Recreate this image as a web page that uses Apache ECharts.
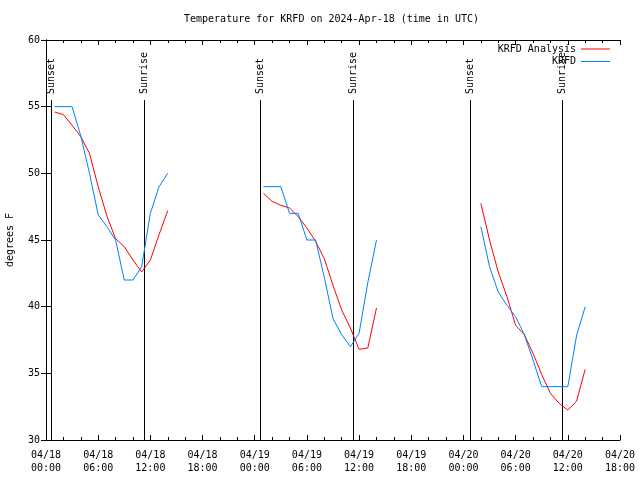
<!DOCTYPE html>
<html><head><meta charset="utf-8">
<script src="https://cdn.jsdelivr.net/npm/echarts@6/dist/echarts.min.js"></script>
<style>html,body{margin:0;padding:0;background:#fff}#c{width:640px;height:480px}</style>
</head><body><div id="c"></div><script>
// hours since 2024-04-18 00:00 UTC
const hoursA = [1,2,3,4,5,6,7,8,9,10,11,12,13,14];
const hoursB = [25,26,27,28,29,30,31,32,33,34,35,36,37,38];
const hoursC = [50,51,52,53,54,55,56,57,58,59,60,61,62];

const analysisA = [54.6,54.4,53.6,52.75,51.5,49.0,46.8,45.1,44.5,43.5,42.6,43.5,45.4,47.2];
const analysisB = [48.5,47.9,47.6,47.4,46.75,45.9,44.9,43.6,41.6,39.75,38.4,36.8,36.9,39.9];
const analysisC = [47.75,45.0,42.6,40.75,38.6,37.9,36.5,34.9,33.5,32.75,32.25,32.9,35.3];

const observedA = [55,55,55,52.8,50,46.9,46,45,42,42,43,47,49,50];
const observedB = [49,49,49,47,47,45,45,42.2,39.1,37.9,37,38,41.8,45];
const observedC = [46,43,41.1,40.1,39.25,37.9,36,34,34,34,34,37.8,40];

const sunHours = [0.63,11.32,24.66,35.33,48.75,59.36];
const sunLabels = ['Sunset','Sunrise','Sunset','Sunrise','Sunset','Sunrise'];

const xTickLabels = ['04/18\n00:00','04/18\n06:00','04/18\n12:00','04/18\n18:00',
  '04/19\n00:00','04/19\n06:00','04/19\n12:00','04/19\n18:00',
  '04/20\n00:00','04/20\n06:00','04/20\n12:00','04/20\n18:00'];
const yTicks = [30,35,40,45,50,55,60];

function joinSegments(hs, vs) {
  const out = [];
  for (let s = 0; s < hs.length; s++) {
    if (s > 0) out.push([(hs[s-1][hs[s-1].length-1] + hs[s][0]) / 2, null]);
    for (let i = 0; i < hs[s].length; i++) out.push([hs[s][i], vs[s][i]]);
  }
  return out;
}
const H = [hoursA, hoursB, hoursC];
const analysisData = joinSegments(H, [analysisA, analysisB, analysisC]);
const observedData = joinSegments(H, [observedA, observedB, observedC]);

const FONT = 'DejaVu Sans Mono';
const RED = '#ff0000', BLUE = '#0080ff';
const axisBase = {
  axisLine: {show: true, lineStyle: {color: '#000', width: 1}},
  splitLine: {show: false}
};

const chart = echarts.init(document.getElementById('c'), null, {renderer: 'canvas'});
chart.setOption({
  animation: false,
  backgroundColor: '#fff',
  title: {
    text: 'Temperature for KRFD on 2024-Apr-18 (time in UTC)',
    left: 184, top: 14, padding: 0,
    textStyle: {fontFamily: FONT, fontSize: 10, fontWeight: 'normal', color: '#000'}
  },
  legend: [
    {data: [{name: 'KRFD Analysis', icon: 'rect'}], orient: 'vertical', align: 'right',
     right: 30, top: 44, padding: 0, itemWidth: 29, itemHeight: 1, selectedMode: false,
     textStyle: {fontFamily: FONT, fontSize: 10, color: '#000'}},
    {data: [{name: 'KRFD', icon: 'rect'}], orient: 'vertical', align: 'right',
     right: 30, top: 56.5, padding: 0, itemWidth: 29, itemHeight: 1, selectedMode: false,
     textStyle: {fontFamily: FONT, fontSize: 10, color: '#000'}}
  ],
  grid: {left: 46, right: 20, top: 40, bottom: 40, containLabel: false, outerBoundsMode: 'none'},
  xAxis: [
    Object.assign({}, axisBase, {
      type: 'value', position: 'bottom', min: 0, max: 66, interval: 6,
      axisTick: {show: true, inside: true, length: 5, lineStyle: {color: '#000'}},
      minorTick: {show: true, splitNumber: 3, length: 3, lineStyle: {color: '#000'}},
      axisLabel: {show: true, margin: 9, fontFamily: FONT, fontSize: 10, lineHeight: 13, color: '#000',
        showMinLabel: true, showMaxLabel: true,
        formatter: v => xTickLabels[Math.round(v / 6)] || ''}
    }),
    Object.assign({}, axisBase, {
      type: 'value', position: 'top', min: 0, max: 66, interval: 6,
      axisTick: {show: true, inside: true, length: 5, lineStyle: {color: '#000'}},
      minorTick: {show: true, splitNumber: 3, length: 3, lineStyle: {color: '#000'}},
      axisLabel: {show: false}
    })
  ],
  yAxis: [
    Object.assign({}, axisBase, {
      type: 'value', position: 'left', min: yTicks[0], max: yTicks[yTicks.length-1], interval: 5,
      name: 'degrees F', nameLocation: 'middle', nameGap: 31,
      nameTextStyle: {fontFamily: FONT, fontSize: 10, color: '#000'},
      axisTick: {show: true, inside: true, length: 5, lineStyle: {color: '#000'}},
      axisLabel: {show: true, margin: 6, fontFamily: FONT, fontSize: 10, color: '#000'}
    }),
    Object.assign({}, axisBase, {
      type: 'value', position: 'right', min: yTicks[0], max: yTicks[yTicks.length-1], interval: 5,
      axisTick: {show: true, inside: true, length: 5, lineStyle: {color: '#000'}},
      axisLabel: {show: false}
    })
  ],
  series: [
    {
      type: 'custom', name: 'sun', xAxisIndex: 0, yAxisIndex: 0, silent: true, z: 1,
      data: sunHours.map(h => [h, 30]),
      encode: {x: 0, y: 1},
      renderItem: function (params, api) {
        const b = api.coord([api.value(0), 30]);
        const t = api.coord([api.value(0), 55.5]);
        const px = Math.round(b[0]) + 0.5;
        return {type: 'group', children: [
          {type: 'line', shape: {x1: px, y1: b[1], x2: px, y2: t[1]},
           style: {stroke: '#000', lineWidth: 1}},
          {type: 'text', x: px, y: t[1] - 6, rotation: Math.PI / 2,
           style: {text: sunLabels[params.dataIndex], textAlign: 'left', textVerticalAlign: 'middle',
                   font: '10px ' + FONT, fill: '#000'}}
        ]};
      }
    },
    {type: 'line', name: 'KRFD Analysis', data: analysisData, showSymbol: false, symbol: 'none',
     connectNulls: false, color: RED, lineStyle: {color: RED, width: 1}, z: 2},
    {type: 'line', name: 'KRFD', data: observedData, showSymbol: false, symbol: 'none',
     connectNulls: false, color: BLUE, lineStyle: {color: BLUE, width: 1}, z: 3}
  ]
});
</script></body></html>
